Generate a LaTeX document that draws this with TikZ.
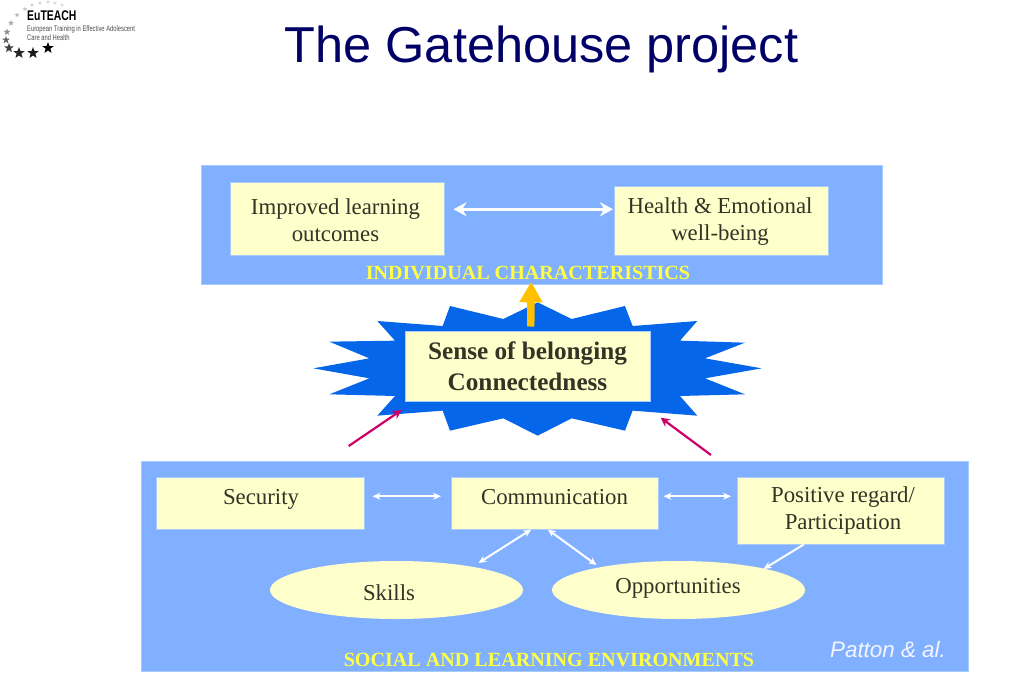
\documentclass[tikz,border=0pt]{standalone}
\usepackage{fontspec}
\setmainfont{Liberation Serif}
\setsansfont{Liberation Sans}
\usetikzlibrary{arrows.meta,shapes.geometric}
\definecolor{band}{HTML}{80B0FF}
\definecolor{cream}{HTML}{FFFFCC}
\definecolor{burst}{HTML}{0666EA}
\definecolor{navy}{HTML}{000066}
\definecolor{ink}{HTML}{333326}
\definecolor{gold}{HTML}{FFC000}
\definecolor{yel}{HTML}{FFFF44}
\definecolor{plum}{HTML}{CC0066}
\definecolor{edgeb}{HTML}{A8CBFF}
\newcommand{\fs}[1]{\fontsize{#1}{#1}\selectfont}
\tikzset{
  bandbox/.style={draw=edgeb,line width=0.8pt,fill=band,inner sep=0pt,anchor=north west},
  creambox/.style={fill=cream,draw=edgeb,line width=0.5pt,inner sep=0pt,anchor=north west},
  oval/.style={ellipse,fill=cream,inner sep=0pt,minimum width=253pt,minimum height=58pt},
  label text/.style={text=ink,font=\fs{22.8},align=center,inner sep=0pt},
  band text/.style={text=yel,font=\fs{20.1}\bfseries,inner sep=0pt},
  whitearrow/.style={draw=white,line width=2pt,{Stealth[length=8pt,width=7pt]}-{Stealth[length=8pt,width=7pt]}},
  redarrow/.style={draw=plum,line width=2.2pt,-{Stealth[length=9pt,width=9pt]}},
  logostar/.style={star,star points=5,star point ratio=2.4,inner sep=0pt}
}
\begin{document}
\begin{tikzpicture}[x=1pt,y=-1pt]
\useasboundingbox (0,0) rectangle (1024,683);
% logo
\foreach \i/\x/\y/\s/\g in {1/48/48/12/100,2/33/53/12/90,3/19/53/12/85,4/9/48/10/75,5/6/40/8/60,6/7/32/7/45,7/11/23/6/35,8/17/15/5/28,9/25/9/5/22,10/32/5/4/20,11/40/3/4/18,12/48/2/4/16,13/55/3/4/15,14/62/5/4/14}{
  \node[logostar,fill=black!\g,minimum size=\s pt] (s\i) at (\x,\y) {};
}
\node[anchor=west,inner sep=0pt,text=black] (logoa) at (27,16) {\scalebox{0.745}[1]{\sffamily\bfseries\fs{14}EuTEACH}};
\node[anchor=west,inner sep=0pt,text=black!70] (logob) at (27,29.5) {\scalebox{0.726}[1]{\sffamily\fs{8}European Training in Effective Adolescent}};
\node[anchor=west,inner sep=0pt,text=black!70] (logoc) at (27,38) {\scalebox{0.726}[1]{\sffamily\fs{8}Care and Health}};
% title
\node[inner sep=0pt,text=navy,font=\sffamily\fs{50.5}] (title) at (541.5,49) {The Gatehouse project};
% top band
\node[bandbox,minimum width=681pt,minimum height=119pt] (topband) at (201,165) {};
\node[creambox,minimum width=214pt,minimum height=73pt] (improved) at (230,182) {};
\node[creambox,minimum width=214pt,minimum height=69pt] (health) at (614,186) {};
\node[label text] (improvedt) at (335.5,220) {Improved learning\\[4.2pt]outcomes};
\node[label text] (healtht) at (720,222) {Health \& Emotional\\[4.2pt]well-being};
\draw[draw=white,line width=3pt,{Stealth[length=13pt,width=14pt]}-{Stealth[length=13pt,width=14pt]}]
  ([xshift=9pt,yshift=9.5pt]improved.east) -- ([xshift=-1pt,yshift=11.5pt]health.west);
\node[band text] (indiv) at (528,273) {INDIVIDUAL CHARACTERISTICS};
% burst
\begin{scope}[shift={(300,270)},x=0.3333pt,y=-0.3333pt]
\fill[burst] (40,295) -- (208,325) -- (88,373) -- (285,378) -- (232,437) -- (428,422) -- (450,482) -- (610,445) -- (713,497) -- (815,445) -- (975,482) -- (998,422) -- (1192,437) -- (1140,378) -- (1335,373) -- (1215,325) -- (1385,295) -- (1215,265) -- (1335,218) -- (1140,212) -- (1192,153) -- (998,168) -- (975,108) -- (815,147) -- (713,97) -- (610,147) -- (450,108) -- (428,168) -- (232,153) -- (285,212) -- (88,215) -- (208,265) -- cycle;
\end{scope}
\node[creambox,minimum width=245pt,minimum height=70pt] (sense) at (405,330.5) {};
\node[text=ink,font=\fs{25.2}\bfseries,align=center,inner sep=0pt] (senset) at (527.5,366.5) {Sense of belonging\\[6pt]Connectedness};
\draw[draw=gold,line width=7.4pt,-{Triangle[length=20.5pt,width=22pt]}]
  ([xshift=3pt,yshift=4pt]sense.north) -- ([xshift=-10.8pt,yshift=3pt]topband.south);
% bottom band
\node[bandbox,minimum width=827pt,minimum height=210pt] (botband) at (141,461) {};
\coordinate (la) at (348.7,446);
\coordinate (lb) at (401.7,410);
\coordinate (ra) at (711,455);
\coordinate (rb) at (660.7,417.7);
\draw[redarrow] (la) -- (lb);
\draw[redarrow] (ra) -- (rb);
\node[creambox,minimum width=208pt,minimum height=52pt] (security) at (156,477) {};
\node[creambox,minimum width=207pt,minimum height=52pt] (comm) at (451,477) {};
\node[creambox,minimum width=207pt,minimum height=67pt] (positive) at (737,477) {};
\node[label text] (securityt) at (261,499) {Security};
\node[label text] (commt) at (554.5,497) {Communication};
\node[label text] (positivet) at (843,511) {Positive regard/\\[4.2pt]Participation};
\node[oval] (skills) at (396.5,590) {};
\node[oval] (opps) at (678.5,590) {};
\node[label text] (skillst) at (389,593) {Skills};
\node[label text] (oppst) at (678,588) {Opportunities};
\draw[whitearrow] ([xshift=8pt,yshift=7pt]security.east) -- ([xshift=-10pt,yshift=7pt]comm.west);
\draw[whitearrow] ([xshift=5pt,yshift=7pt]comm.east) -- ([xshift=-6pt,yshift=14.5pt]positive.west);
\draw[whitearrow] ([xshift=-23.5pt]comm.south) -- ([xshift=82pt,yshift=27pt]skills.center);
\draw[whitearrow] ([xshift=-7pt]comm.south) -- ([xshift=-82pt,yshift=25pt]opps.center);
\draw[draw=white,line width=2pt,-{Stealth[length=8pt,width=7pt]}] ([xshift=-37pt]positive.south) -- ([xshift=85pt,yshift=21pt]opps.center);
\node[inner sep=0pt,text=white!96!blue,font=\sffamily\itshape\fs{22.4}] (patton) at (888,649) {Patton \& al.};
\node[band text] (social) at (549,660) {SOCIAL AND LEARNING ENVIRONMENTS};
\end{tikzpicture}
\end{document}
